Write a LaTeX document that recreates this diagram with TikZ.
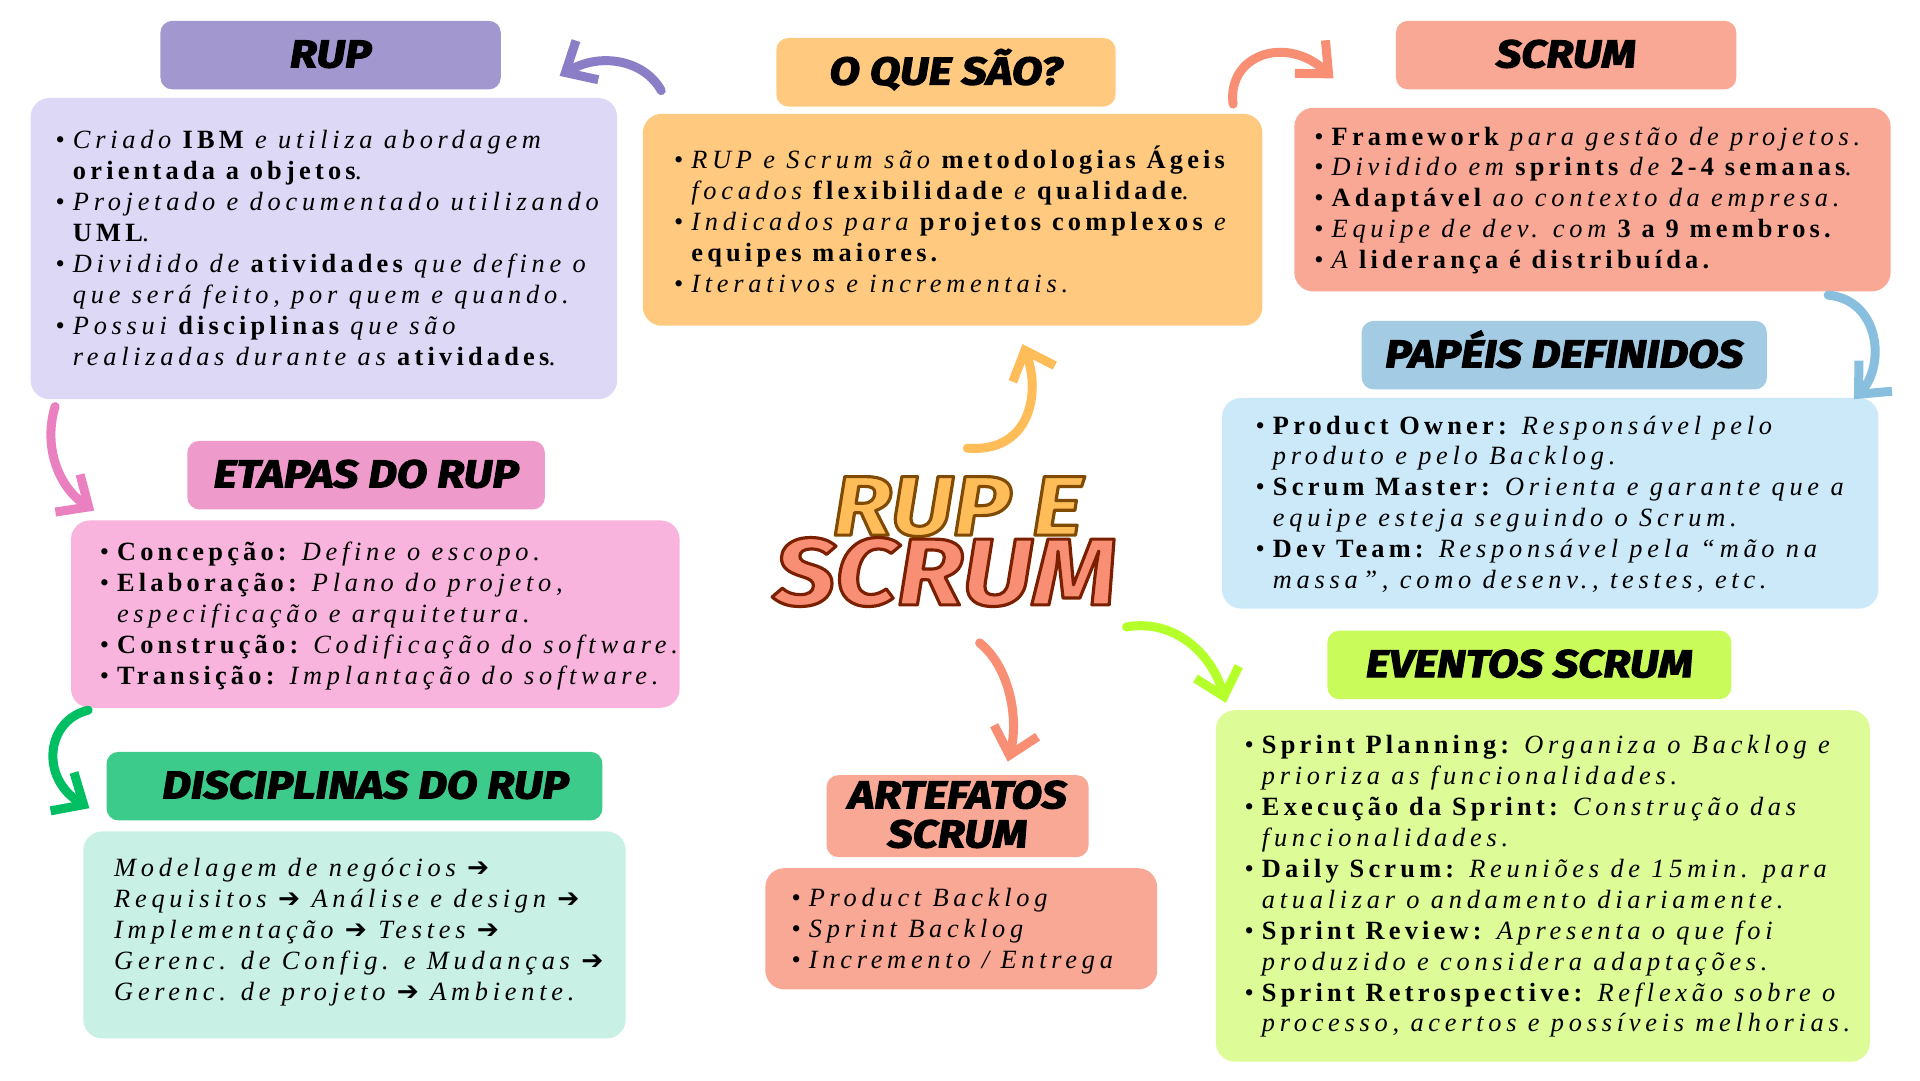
\documentclass[tikz,border=0pt]{standalone}
\usepackage{fontspec}
\usetikzlibrary{arrows.meta,positioning,fit,calc}

\setmainfont{Liberation Serif}[LetterSpace=18,BoldFeatures={LetterSpace=16}]
\newfontfamily\hdfont{Fira Sans}[BoldItalicFeatures={FakeBold=3,FakeStretch=1.15}]
\newfontfamily\bigfont{Fira Sans}[BoldItalicFeatures={FakeStretch=1.15}]
\newfontfamily\symfont{DejaVu Sans}

\definecolor{rupH}{HTML}{A397D0}
\definecolor{rupB}{HTML}{DDD8F6}
\definecolor{oqH}{HTML}{FFCA80}
\definecolor{scrH}{HTML}{F8A894}
\definecolor{papH}{HTML}{A3CBE3}
\definecolor{papB}{HTML}{CCE9FA}
\definecolor{evH}{HTML}{C9FC5A}
\definecolor{evB}{HTML}{DDFB96}
\definecolor{etH}{HTML}{EE9BCB}
\definecolor{etB}{HTML}{F8B4DD}
\definecolor{disH}{HTML}{3CCB8A}
\definecolor{disB}{HTML}{C8F0E4}
\definecolor{arPur}{HTML}{8B7DC6}
\definecolor{arSal}{HTML}{F88E74}
\definecolor{arBlu}{HTML}{88BEDE}
\definecolor{arOra}{HTML}{FFBD59}
\definecolor{arLim}{HTML}{B5FF2B}
\definecolor{arPnk}{HTML}{EA80C0}
\definecolor{arGrn}{HTML}{00BF63}

\newcommand\bl{\makebox[3.5mm][l]{\textbullet}}
\newcommand\ind{\hspace*{3.5mm}}
\newcommand\hi[1]{{\upshape\bfseries #1}}
\newcommand\fst{\rule{0pt}{13pt}}
\newcommand\arr{{\symfont\upshape ➔}}
% outlined title text: #1 stroke rgb, #2 fill colour
\newcommand\outl[3]{\special{pdf:code q 2 Tr 1.8 w 1 j}%
  \textcolor{#2}{\special{pdf:code #1 RG}#3}\special{pdf:code Q}}

\begin{document}
\begin{tikzpicture}[
    x=0.2449mm, y=-0.2449mm,
    hblock/.style={rounded corners=2.4mm, inner sep=0pt},
    htitle/.style={anchor=base, inner sep=0pt,
                   font=\hdfont\bfseries\itshape\fontsize{22}{24}\selectfont},
    bblock/.style={rounded corners=3.8mm, inner sep=0pt},
    txt/.style={anchor=north west, inner sep=0pt, align=left,
                font=\itshape\fontsize{15}{17.6}\selectfont},
    big/.style={anchor=base, inner sep=0pt},
    curl/.style={line width=1.8mm, line cap=round,
                 -{Straight Barb[length=5mm,width=9mm]}}
  ]
    \fill[white] (0,0) rectangle (1568,882);
    \useasboundingbox (0,0) rectangle (1568,882);

    % RUP
    \node[hblock, fill=rupH, fit={(131,17)(409,73)}] (ruph) {};
    \node[htitle] (rupt) at ($(ruph.center)+(0,10)$) {RUP};
    \node[bblock, fill=rupB, fit={(25,80)(504,326)}] (rupb) {};
    \node[txt] (ruptx) at (45,102.5) {\fst\bl Criado \hi{IBM} e utiliza abordagem\\
      \ind\hi{orientada a objetos}.\\
      \bl Projetado e documentado utilizando\\
      \ind\hi{UML}.\\
      \bl Dividido de \hi{atividades} que define o\\
      \ind que será feito, por quem e quando.\\
      \bl Possui \hi{disciplinas} que são\\
      \ind realizadas durante as \hi{atividades}.};

    % O que sao
    \node[hblock, fill=oqH, fit={(634,31)(911,87)}] (oqh) {};
    \node[htitle] (oqt) at ($(oqh.center)+(0,10)$) {O QUE SÃO?};
    \node[bblock, fill=oqH, fit={(525,93)(1031,266)}] (oqb) {};
    \node[txt] (oqtx) at (550,118.5) {\fst\bl RUP e Scrum são \hi{metodologias Ágeis}\\
      \ind focados \hi{flexibilidade} e \hi{qualidade}.\\
      \bl Indicados para \hi{projetos complexos} e\\
      \ind\hi{equipes maiores.}\\
      \bl Iterativos e incrementais.};

    % Scrum
    \node[hblock, fill=scrH, fit={(1140,17)(1418,73)}] (scrh) {};
    \node[htitle] (scrt) at ($(scrh.center)+(0,10)$) {SCRUM};
    \node[bblock, fill=scrH, fit={(1057,88)(1544,238)}] (scrb) {};
    \node[txt] (scrtx) at (1073,99.5) {\fst\bl\hi{Framework} para gestão de projetos.\\
      \bl Dividido em \hi{sprints} de \hi{2-4 semanas}.\\
      \bl\hi{Adaptável} ao contexto da empresa.\\
      \bl Equipe de dev. com \hi{3 a 9 membros.}\\
      \bl A \hi{liderança é distribuída.}};

    % Papeis
    \node[hblock, fill=papH, fit={(1112,262)(1443,318)}] (paph) {};
    \node[htitle] (papt) at ($(paph.center)+(0,10)$) {PAPÉIS DEFINIDOS};
    \node[bblock, fill=papB, fit={(998,325)(1534,497)}] (papb) {};
    \node[txt] (paptx) at (1025,335.5) {\fst\bl\hi{Product Owner:} Responsável pelo\\
      \ind produto e pelo Backlog.\\
      \bl\hi{Scrum Master:} Orienta e garante que a\\
      \ind equipe esteja seguindo o Scrum.\\
      \bl\hi{Dev Team:} Responsável pela “mão na\\
      \ind massa”, como desenv., testes, etc.};

    % Eventos
    \node[hblock, fill=evH, fit={(1084,515)(1414,571)}] (evh) {};
    \node[htitle] (evt) at ($(evh.center)+(0,10)$) {EVENTOS SCRUM};
    \node[bblock, fill=evB, fit={(993,580)(1527,867)}] (evb) {};
    \node[txt] (evtx) at (1016,596.5) {\fst\bl\hi{Sprint Planning:} Organiza o Backlog e\\
      \ind prioriza as funcionalidades.\\
      \bl\hi{Execução da Sprint:} Construção das\\
      \ind funcionalidades.\\
      \bl\hi{Daily Scrum:} Reuniões de 15min. para\\
      \ind atualizar o andamento diariamente.\\
      \bl\hi{Sprint Review:} Apresenta o que foi\\
      \ind produzido e considera adaptações.\\
      \bl\hi{Sprint Retrospective:} Reflexão sobre o\\
      \ind processo, acertos e possíveis melhorias.};

    % Artefatos
    \node[hblock, fill=scrH, fit={(675,633)(889,700)}] (arth) {};
    \node[htitle] (artt1) at (782,660) {ARTEFATOS};
    \node[htitle] (artt2) at (782,692) {SCRUM};
    \node[bblock, fill=scrH, fit={(625,709)(945,808)}] (artb) {};
    \node[txt] (arttx) at (646,721.5) {\fst\bl Product Backlog\\
      \bl Sprint Backlog\\
      \bl Incremento / Entrega};

    % Etapas
    \node[hblock, fill=etH, fit={(153,360)(445,416)}] (eth) {};
    \node[htitle] (ett) at ($(eth.center)+(0,10)$) {ETAPAS DO RUP};
    \node[bblock, fill=etB, fit={(58,425)(555,578)}] (etb) {};
    \node[txt] (ettx) at (81,439) {\fst\bl\hi{Concepção:} Define o escopo.\\
      \bl\hi{Elaboração:} Plano do projeto,\\
      \ind especificação e arquitetura.\\
      \bl\hi{Construção:} Codificação do software.\\
      \bl\hi{Transição:} Implantação do software.};

    % Disciplinas
    \node[hblock, fill=disH, fit={(87,614)(492,670)}] (dish) {};
    \node[htitle] (dist) at ($(dish.center)+(9,10)$) {DISCIPLINAS DO RUP};
    \node[bblock, fill=disB, fit={(68,679)(511,848)}] (disb) {};
    \node[txt] (distx) at (93,697) {\fst Modelagem de negócios \arr\\
      Requisitos \arr{} Análise e design \arr\\
      Implementação \arr{} Testes \arr\\
      Gerenc. de Config. e Mudanças \arr\\
      Gerenc. de projeto \arr{} Ambiente.};

    % Titulo central
    \node[big, font=\bigfont\bfseries\itshape\fontsize{48}{48}\selectfont] (tit1) at (782,437)
      {\outl{0.5 0.29 0}{arOra}{RUP E}};
    \node[big, font=\bigfont\bfseries\itshape\fontsize{54}{54}\selectfont] (tit2) at (772,494)
      {\outl{0.48 0.12 0}{arSal}{SCRUM}};

    % Setas
    \coordinate (pu1) at (540,74);   \coordinate (pu2) at (457,62);
    \coordinate (sa1) at (1007,85);  \coordinate (sa2) at (1089,64);
    \coordinate (bl1) at (1493,241); \coordinate (bl2) at (1514,326);
    \coordinate (or1) at (790,366);  \coordinate (or2) at (835,281);
    \coordinate (li1) at (920,512);  \coordinate (li2) at (1001,574);
    \coordinate (sd1) at (800,525);  \coordinate (sd2) at (823,622);
    \coordinate (pk1) at (45,332);   \coordinate (pk2) at (77,417);
    \coordinate (gr1) at (72,580);   \coordinate (gr2) at (73,660);

    \draw[curl, arPur] (pu1) .. controls (527,50) and (492,42) .. (pu2);
    \draw[curl, arSal] (sa1) .. controls (1002,45) and (1050,28) .. (sa2);
    \draw[curl, arBlu] (bl1) .. controls (1535,245) and (1540,298) .. (bl2);
    \draw[curl, arOra] (or1) .. controls (842,370) and (850,320) .. (or2);
    \draw[curl, arLim] (li1) .. controls (960,505) and (990,535) .. (li2);
    \draw[curl, arSal] (sd1) .. controls (825,545) and (832,588) .. (sd2);
    \draw[curl, arPnk] (pk1) .. controls (35,365) and (48,398) .. (pk2);
    \draw[curl, arGrn] (gr1) .. controls (38,588) and (32,635) .. (gr2);
  \end{tikzpicture}
\end{document}
